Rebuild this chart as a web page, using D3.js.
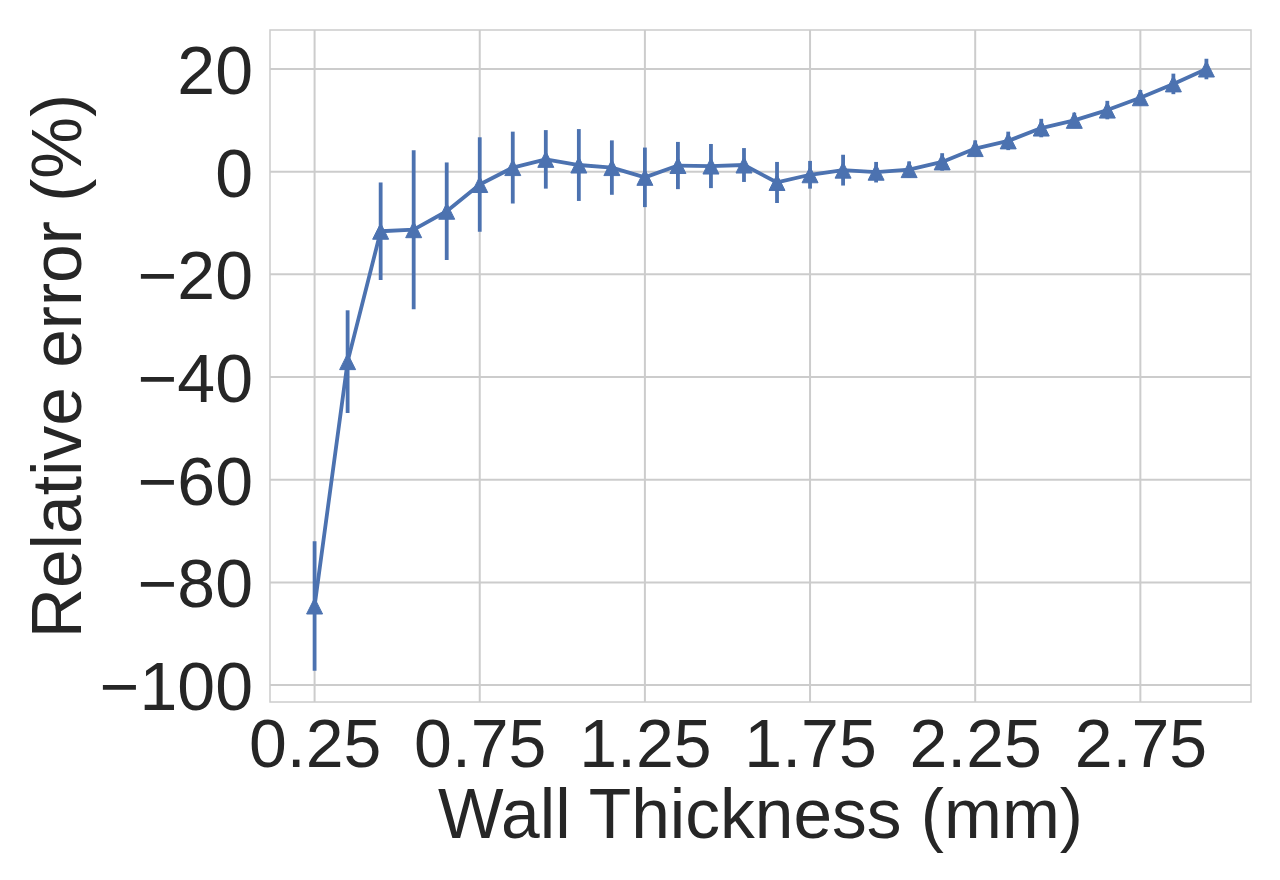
<!DOCTYPE html>
<html>
<head>
<meta charset="utf-8">
<script src="https://cdn.jsdelivr.net/npm/d3@7"></script>
<style>
  html, body { margin: 0; padding: 0; background: #ffffff; }
  svg { display: block; }
  text { font-family: "Liberation Sans", Arial, sans-serif; fill: #262626; }
</style>
</head>
<body>
<svg id="chart" width="1280" height="880"></svg>
<script>
// ---- data ----
const thickness = [0.25, 0.35, 0.45, 0.55, 0.65, 0.75, 0.85, 0.95, 1.05, 1.15,
                   1.25, 1.35, 1.45, 1.55, 1.65, 1.75, 1.85, 1.95, 2.05, 2.15,
                   2.25, 2.35, 2.45, 2.55, 2.65, 2.75, 2.85, 2.95];
const relError = [-84.6, -37.0, -11.6, -11.3, -7.7, -2.5, 0.8, 2.4, 1.3, 0.8,
                  -1.1, 1.2, 1.1, 1.3, -2.1, -0.6, 0.3, -0.1, 0.4, 1.9,
                  4.5, 6.0, 8.5, 10.0, 12.0, 14.4, 17.1, 20.0];
const errBar = [12.6, 10.0, 9.5, 15.5, 9.5, 9.2, 7.0, 5.7, 7.0, 5.3,
                5.8, 4.6, 4.3, 3.3, 4.0, 2.7, 3.0, 2.0, 1.6, 1.7,
                1.6, 1.8, 1.8, 1.5, 1.8, 1.5, 2.0, 2.0];
const xTicks = [0.25, 0.75, 1.25, 1.75, 2.25, 2.75];
const yTicks = [-100, -80, -60, -40, -20, 0, 20];
const xLabel = "Wall Thickness (mm)";
const yLabel = "Relative error (%)";

const points = thickness.map((t, i) => ({x: t, y: relError[i], e: errBar[i]}));

// ---- layout ----
const L = 270, R = 1251, T = 30, B = 702;
const color = "#4c72b0";
const gridColor = "#cccccc";
const tickFont = "68px";
const titleFont = "69.5px";

const svg = d3.select("#chart");
const x = d3.scaleLinear().domain([0.115, 3.085]).range([L, R]);
const y = d3.scaleLinear().domain([-103.3, 27.6]).range([B, T]);

// grid
const g = svg.append("g");
g.selectAll("line.gx").data(xTicks).join("line")
  .attr("x1", d => x(d)).attr("x2", d => x(d))
  .attr("y1", T).attr("y2", B)
  .attr("stroke", gridColor).attr("stroke-width", 2);
g.selectAll("line.gy").data(yTicks).join("line")
  .attr("x1", L).attr("x2", R)
  .attr("y1", d => y(d)).attr("y2", d => y(d))
  .attr("stroke", gridColor).attr("stroke-width", 2);

// frame
svg.append("rect").attr("x", L).attr("y", T).attr("width", R - L).attr("height", B - T)
  .attr("fill", "none").attr("stroke", gridColor).attr("stroke-width", 1.5);

// axes tick labels via d3 axes
const xAxis = svg.append("g").attr("transform", `translate(0,${B})`)
  .call(d3.axisBottom(x).tickValues(xTicks).tickFormat(d3.format(".2f")).tickSize(0).tickPadding(17));
xAxis.select(".domain").remove();
xAxis.selectAll("text").style("font-size", tickFont).style("fill", "#262626")
  .style("font-family", "'Liberation Sans', Arial, sans-serif").attr("dy", "0.71em");

const fmtY = d => (d < 0 ? "\u2212" + Math.abs(d) : String(d));
const yAxis = svg.append("g").attr("transform", `translate(${L},0)`)
  .call(d3.axisLeft(y).tickValues(yTicks).tickFormat(fmtY).tickSize(0).tickPadding(17));
yAxis.select(".domain").remove();
yAxis.selectAll("text").style("font-size", tickFont).style("fill", "#262626")
  .style("font-family", "'Liberation Sans', Arial, sans-serif").attr("dy", "0.36em");

// axis titles
svg.append("text").attr("x", (L + R) / 2).attr("y", 838)
  .attr("text-anchor", "middle").style("font-size", titleFont).text(xLabel);
svg.append("text").attr("transform", `translate(81,${(T + B) / 2}) rotate(-90)`)
  .attr("text-anchor", "middle").style("font-size", titleFont).text(yLabel);

// error bars
svg.append("g").selectAll("line").data(points).join("line")
  .attr("x1", d => x(d.x)).attr("x2", d => x(d.x))
  .attr("y1", d => y(d.y - d.e)).attr("y2", d => y(d.y + d.e))
  .attr("stroke", color).attr("stroke-width", 3.8);

// line
svg.append("path").datum(points)
  .attr("d", d3.line().x(d => x(d.x)).y(d => y(d.y)))
  .attr("fill", "none").attr("stroke", color).attr("stroke-width", 3.8)
  .attr("stroke-linejoin", "round");

// triangle markers
const h = 8;
svg.append("g").selectAll("path").data(points).join("path")
  .attr("d", d => {
    const cx = x(d.x), cy = y(d.y);
    return `M${cx},${cy - h}L${cx - h},${cy + h}L${cx + h},${cy + h}Z`;
  })
  .attr("fill", color).attr("stroke", color).attr("stroke-width", 1);
</script>
</body>
</html>
